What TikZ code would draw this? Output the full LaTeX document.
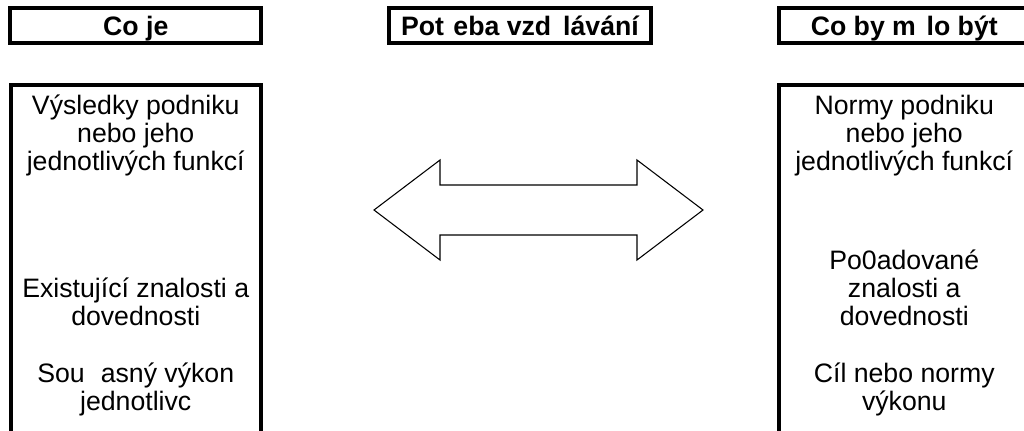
\documentclass[tikz,border=0pt]{standalone}
\usepackage{fontspec}
\setmainfont{Liberation Sans}
\tikzset{
  hdr/.style={draw=black, line width=3pt, rectangle, inner sep=0pt,
    minimum height=26.6pt, text height=14.6pt, text depth=0pt,
    font=\fontsize{20pt}{21pt}\selectfont\bfseries},
  colbox/.style={draw=black, line width=3pt},
  body/.style={align=center, inner sep=0pt, anchor=base,
    font=\fontsize{20pt}{21pt}\selectfont},
  bigarrow/.style={draw=black, line width=0.8pt, line join=miter, fill=white}
}
\begin{document}
\begin{tikzpicture}[x=0.75pt, y=-0.75pt]
\useasboundingbox (0,0) rectangle (1024,430);
% header boxes
\node[hdr, minimum width=187.9pt] (h1) at (135.75,25.75) {Co je};
\node[hdr, minimum width=196.5pt] (h2) at (520,25.75) {Pot\hspace{7pt}eba vzd\hspace{9pt}lávání};
\node[hdr, minimum width=187.9pt] (h3) at (904.25,25.75) {Co by m\hspace{8pt}lo být};
% column boxes
\draw[colbox] (10.5,450) -- (10.5,85) -- (261,85) -- (261,450);
\draw[colbox] (779,450) -- (779,85) -- (1029.5,85) -- (1029.5,450);
% left texts (anchor = baseline of last line)
\node[body] (l1) at (135.75,170) {Výsledky podniku\\nebo jeho\\jednotlivých funkcí};
\node[body] (l2) at (135.75,325) {Existující znalosti a\\dovednosti};
\node[body] (l3) at (135.75,410) {Sou\hspace{12pt}asný výkon\\jednotlivc};
% right texts
\node[body] (r1) at (904.25,170) {Normy podniku\\nebo jeho\\jednotlivých funkcí};
\node[body] (r2) at (904.25,325) {Po0adované\\znalosti a\\dovednosti};
\node[body] (r3) at (904.25,410) {Cíl nebo normy\\výkonu};
% double block arrow
\draw[bigarrow] (374,210) -- (440,160) -- (440,185) -- (637,185) -- (637,160)
  -- (703,210) -- (637,260) -- (637,235) -- (440,235) -- (440,260) -- cycle;
\end{tikzpicture}
\end{document}
